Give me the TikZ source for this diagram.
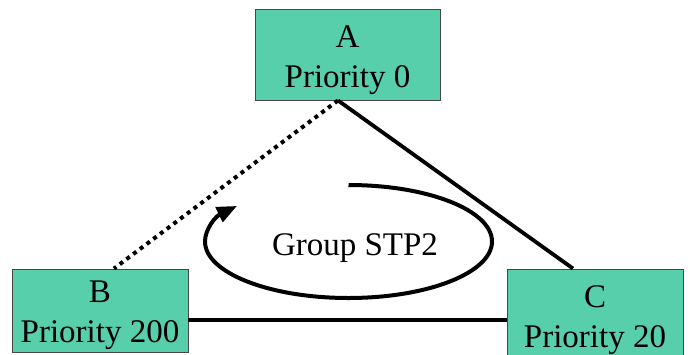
\documentclass[tikz,border=0pt]{standalone}
\usepackage{fontspec}
\setmainfont{Liberation Serif}
\usetikzlibrary{arrows.meta,calc}
\definecolor{mint}{RGB}{86,207,170}
\definecolor{edge}{RGB}{70,70,70}
\begin{document}
\begin{tikzpicture}[x=1pt,y=-1pt,
  switchbox/.style={draw=edge,line width=0.9pt,fill=mint,inner sep=0pt},
  boxtext/.style={font=\fontsize{33}{40}\selectfont,align=center,inner sep=0pt},
  link/.style={line width=3.8pt},
  backup/.style={line width=4pt,dash pattern=on 4pt off 4.4pt},
  looparrow/.style={line width=4pt,-{Triangle[length=20pt,width=16pt]}}]
  \clip (0,0) rectangle (691,354);

  % switches
  \node[switchbox,minimum width=185pt,minimum height=91pt] (A) at (347.5,54.5) {};
  \node[switchbox,minimum width=176pt,minimum height=83pt] (B) at (100,310.5) {};
  \node[switchbox,minimum width=176pt,minimum height=92pt] (C) at (595,315) {};

  \node[boxtext] (At) at (347.5,60.2) {A\\Priority 0};
  \node[boxtext] (Bt) at (100,315.2) {B\\Priority 200};
  \node[boxtext] (Ct) at (595,319.7) {C\\Priority 20};

  % attachment points of the links
  \coordinate (ax) at (338,0);
  \coordinate (bx) at (114,0);
  \coordinate (cx) at (573,0);
  \coordinate (bcy) at (0,320);

  % links
  \draw[link] (A.south -| ax) -- (C.north -| cx);
  \draw[link] (B.east |- bcy) -- (C.west |- bcy);
  \draw[backup] (A.south -| ax) -- (B.north -| bx);

  % spanning tree group loop
  \coordinate (ring) at (348.5,241.5);
  \draw[looparrow] ($(ring)+(0,-56.5)$) arc[start angle=-90,end angle=219,x radius=143.5,y radius=56.5];
  \node[font=\fontsize{33}{40}\selectfont,anchor=base,inner sep=0pt] (grp) at (355,255) {Group STP2};
\end{tikzpicture}
\end{document}
